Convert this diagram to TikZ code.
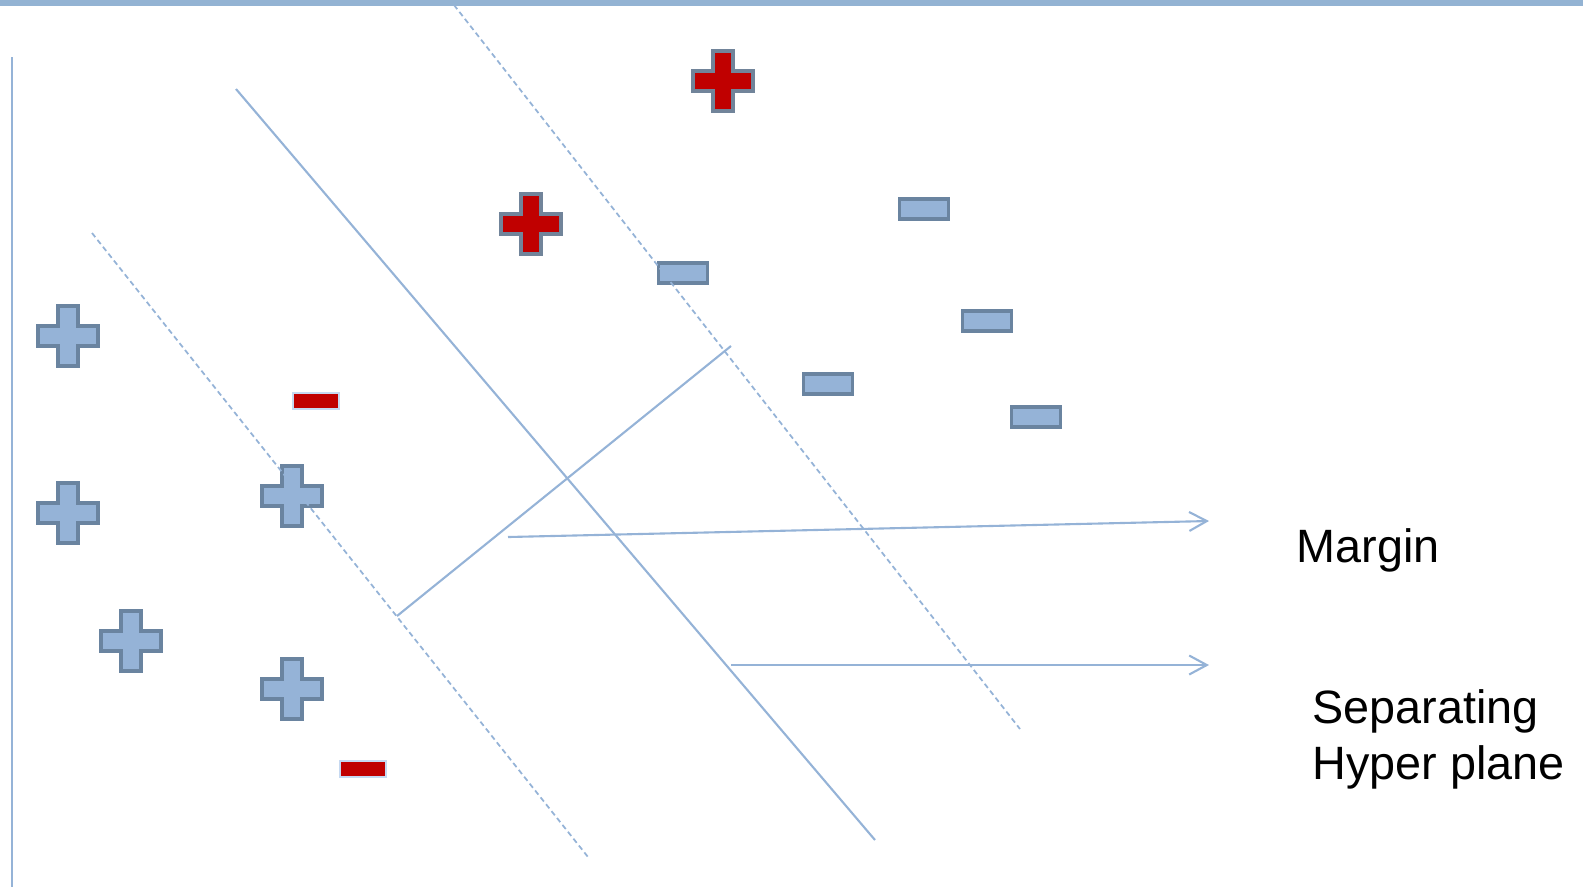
\documentclass[tikz,border=0pt]{standalone}
\usepackage{fontspec}
\setmainfont{Liberation Sans}
\usetikzlibrary{arrows.meta}
\definecolor{lb}{HTML}{95B3D7}
\definecolor{ol}{HTML}{6A84A0}
\definecolor{rol}{HTML}{71849A}
\definecolor{rd}{HTML}{C00000}
\definecolor{bar}{HTML}{93B3D3}
\definecolor{pale}{HTML}{C6D9F1}
\tikzset{
  ln/.style={draw=lb, line width=0.6pt},
  dsh/.style={draw=lb, line width=0.5pt, dash pattern=on 1.5pt off 1pt},
  arr/.style={ln, -{Straight Barb[length=5pt,width=5.4pt]}},
  plusshape/.style 2 args={fill=#1, draw=#2, line width=0.95pt, line join=miter},
  bminus/.style={rectangle, fill=lb, draw=ol, line width=0.95pt, minimum width=0.49cm, minimum height=0.2cm, inner sep=0pt, outer sep=0pt},
  rminus/.style={rectangle, fill=rd, draw=pale, line width=0.6pt, minimum width=0.46cm, minimum height=0.165cm, inner sep=0pt, outer sep=0pt},
  lbl/.style={font=\fontsize{13.3pt}{15.7pt}\selectfont, align=left, inner sep=0pt},
  pics/pluspic/.style 2 args={code={
    \path[plusshape={#1}{#2}] (-10,-30) -- (10,-30) -- (10,-10) -- (30,-10) -- (30,10) -- (10,10) -- (10,30) -- (-10,30) -- (-10,10) -- (-30,10) -- (-30,-10) -- (-10,-10) -- cycle;
  }}
}
\begin{document}
\begin{tikzpicture}[x=0.01cm, y=-0.01cm]
\useasboundingbox (0,0) rectangle (1583,887);
% top bar
\fill[bar] (0,0) rectangle (1583,6);
% left axis
\coordinate (axT) at (12,57);
\coordinate (axB) at (12,887);
\draw[draw=lb, line width=0.45pt] (axT) -- (axB);

% blue pluses
\pic at (68,336) {pluspic={lb}{ol}};
\pic at (68,513) {pluspic={lb}{ol}};
\pic at (292,496) {pluspic={lb}{ol}};
\pic at (131,641) {pluspic={lb}{ol}};
\pic at (292,689) {pluspic={lb}{ol}};
% red pluses
\pic at (723,81) {pluspic={rd}{rol}};
\pic at (531,224) {pluspic={rd}{rol}};

% red minuses
\node[rminus] (rm1) at (316,401) {};
\node[rminus] (rm2) at (363,769) {};
% blue minuses
\node[bminus] (bm1) at (924,209) {};
\node[bminus] (bm2) at (683,273) {};
\node[bminus] (bm3) at (987,321) {};
\node[bminus] (bm4) at (828,384) {};
\node[bminus] (bm5) at (1036,417) {};

% lines
\coordinate (d1a) at (454,5);
\coordinate (d1b) at (1020,729);
\coordinate (d2a) at (92,233);
\coordinate (d2b) at (588,857);
\coordinate (hpa) at (236,89);
\coordinate (hpb) at (875,840);
\draw[dsh] (d1a) -- (d1b);
\draw[dsh] (d2a) -- (d2b);
\draw[ln] (hpa) -- (hpb);

\coordinate (mA) at (397,616);
\coordinate (mB) at (731,346);
\draw[ln] (mA) -- (mB);

% labels
\node[lbl, anchor=base west] (margin) at (1296,562) {Margin};
\node[lbl, anchor=base west] (sep) at (1312,779) {Separating\\Hyper plane};

% arrows
\coordinate (a1s) at (508,537);
\coordinate (a1e) at (1209,521);
\coordinate (a2s) at (731,665);
\coordinate (a2e) at (1209,665);
\draw[arr] (a1s) -- (a1e);
\draw[arr] (a2s) -- (a2e);
\end{tikzpicture}
\end{document}
